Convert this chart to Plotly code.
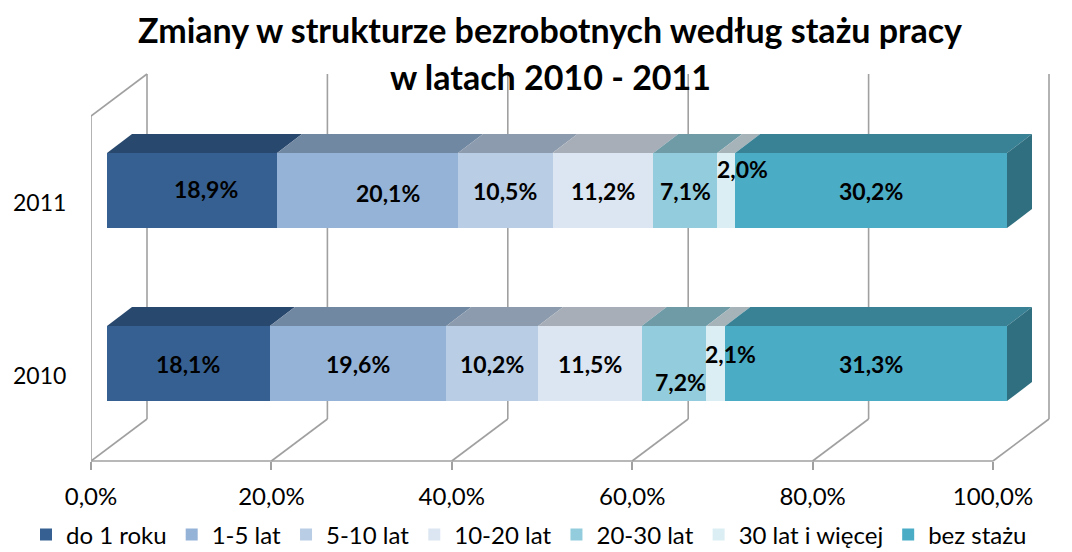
import plotly.graph_objects as go

# ---------------- data ----------------
years = ["2010", "2011"]
categories = ["do 1 roku", "1-5 lat", "5-10 lat", "10-20 lat", "20-30 lat",
              "30 lat i więcej", "bez stażu"]
values_2010 = [18.1, 19.6, 10.2, 11.5, 7.2, 2.1, 31.3]
values_2011 = [18.9, 20.1, 10.5, 11.2, 7.1, 2.0, 30.2]
x_ticks = [0, 20, 40, 60, 80, 100]
x_tick_labels = ["0,0%", "20,0%", "40,0%", "60,0%", "80,0%", "100,0%"]
title_lines = ["Zmiany w strukturze bezrobotnych według stażu pracy",
               "w latach 2010 - 2011"]

# ---------------- style ----------------
front_colors = ["#376092", "#95B3D7", "#B9CDE5", "#DCE6F2", "#93CDDD", "#DBEEF4", "#4BACC6"]


def shade(hex_color, f):
    h = hex_color.lstrip("#")
    r, g, b = (int(h[i:i + 2], 16) for i in (0, 2, 4))
    return "#%02X%02X%02X" % (int(r * f), int(g * f), int(b * f))


top_colors = [shade(c, 0.76) for c in front_colors]
side_colors = [shade(c, 0.65) for c in front_colors]

FONT = "Lato"
GRID = "#A0A0A0"
W, H = 1072, 552
PL, PR, PT, PB = 91, 1050, 74, 461          # plot area in px
BAR0_PX, BAR_SCALE = 107, 9.0               # bar plane: px = 107 + 9.0*v
FRONT_SCALE = 9.02                          # front plane: px = 91 + 9.02*v
CAT_PX, CAT_CENTER = 173, 363.5             # y: px = 363.5 - 173*idx
BAR_W_PX = 75
DEPTH = (25, 19)                            # bar depth offset (px right, px up)
WALL = (56, 42)                             # back wall offset (px right, px up)
FRONT_CAT_SHIFT = -11                       # front plane vs bar plane (px, plotly up)

# label nudges (px) keyed by (year index, category index)
nudges = {(1, 0): (14, 2), (1, 1): (20, -2), (1, 5): (16, 22),
          (0, 4): (6, -18), (0, 5): (15, 10), (0, 6): (5, 0)}

x_range = [(PL - BAR0_PX) / BAR_SCALE, (PR - BAR0_PX) / BAR_SCALE]
x2_range = [0, (PR - PL) / FRONT_SCALE]
y_range = [(CAT_CENTER - PB) / CAT_PX, (CAT_CENTER - PT) / CAT_PX]
bar_w = BAR_W_PX / CAT_PX
dx = DEPTH[0] / BAR_SCALE
dy = DEPTH[1] / CAT_PX
paper_h = PB - PT
paper_w = PR - PL
wall_dy = WALL[1] / paper_h

series = {0: values_2010, 1: values_2011}
y_pos = list(range(len(years)))

fig = go.Figure()
for ci, cat in enumerate(categories):
    fig.add_trace(go.Bar(
        y=y_pos, x=[series[yi][ci] for yi in y_pos], name=cat, orientation="h",
        width=bar_w, marker=dict(color=front_colors[ci], line=dict(width=0)),
        hoverinfo="x+name",
    ))

# invisible trace to carry the front-plane axis
fig.add_trace(go.Scatter(x=[x_ticks[0], x_ticks[-1]], y=[0, 0], xaxis="x2", yaxis="y",
                         mode="markers", marker=dict(opacity=0), showlegend=False,
                         hoverinfo="skip"))

shapes = []
line_style = dict(color=GRID, width=1.6)
# back wall gridlines and floor diagonals
for t in x_ticks:
    shapes.append(dict(type="line", xref="x2", yref="paper", xsizemode="pixel", xanchor=t,
                       x0=WALL[0], x1=WALL[0], y0=wall_dy, y1=1, line=line_style, layer="below"))
    shapes.append(dict(type="line", xref="x2", yref="paper", xsizemode="pixel", xanchor=t,
                       x0=0, x1=WALL[0], y0=0, y1=wall_dy, line=line_style, layer="below"))
# front floor line
shapes.append(dict(type="line", xref="x2", yref="paper", x0=x_ticks[0], x1=x_ticks[-1],
                   y0=0, y1=0, line=line_style, layer="below"))
# left wall
left_top = 1 - wall_dy
shapes.append(dict(type="line", xref="x2", yref="paper", x0=0, x1=0, y0=0, y1=left_top,
                   line=line_style, layer="below"))
shapes.append(dict(type="line", xref="x2", yref="paper", xsizemode="pixel", xanchor=0,
                   x0=0, x1=WALL[0], y0=left_top, y1=1, line=line_style, layer="below"))
# category ticks on left wall
n_cat = len(years)
for k in range(n_cat + 1):
    yy = left_top * k / n_cat
    shapes.append(dict(type="line", xref="x2", yref="paper", xsizemode="pixel", xanchor=0,
                       x0=-8, x1=0, y0=yy, y1=yy, line=line_style, layer="below"))

# 3D top faces and side face, derived from the data
for yi in y_pos:
    vals = series[yi]
    cum = 0.0
    ft = yi + bar_w / 2
    fb = yi - bar_w / 2
    for ci, v in enumerate(vals):
        x0, x1 = cum, cum + v
        path = (f"M{x0},{ft} L{x0 + dx},{ft + dy} L{x1 + dx},{ft + dy} L{x1},{ft} Z")
        shapes.append(dict(type="path", xref="x", yref="y", path=path,
                           fillcolor=top_colors[ci], line=dict(width=0), layer="below"))
        cum = x1
    last = len(vals) - 1
    path = (f"M{cum},{fb} L{cum},{ft} L{cum + dx},{ft + dy} L{cum + dx},{fb + dy} Z")
    shapes.append(dict(type="path", xref="x", yref="y", path=path,
                       fillcolor=side_colors[last], line=dict(width=0), layer="below"))

annotations = []
# value labels
for yi in y_pos:
    vals = series[yi]
    cum = 0.0
    for ci, v in enumerate(vals):
        nx, ny = nudges.get((yi, ci), (0, 0))
        annotations.append(dict(
            x=cum + v / 2, y=yi, xref="x", yref="y", showarrow=False,
            xanchor="center", yanchor="middle",
            text=f"{v:.1f}".replace(".", ",") + "%",
            font=dict(family=FONT, size=23, color="#000000", weight="bold"),
            xshift=nx, yshift=ny))
        cum += v
# category labels (front plane)
for yi in y_pos:
    annotations.append(dict(x=0, y=yi, xref="paper", yref="y", xanchor="right",
                            yanchor="middle", showarrow=False, text=years[yi], xshift=-23,
                            yshift=FRONT_CAT_SHIFT,
                            font=dict(family=FONT, size=23, color="#000000")))
# title
title_x = (550 - PL) / paper_w
for line, py in zip(title_lines, (29, 76)):
    annotations.append(dict(x=title_x, y=(PB - py) / paper_h, xref="paper", yref="paper",
                            xanchor="center", yanchor="middle",
                            showarrow=False, text=f"<b>{line}</b>",
                            font=dict(family=FONT, size=34, color="#000000")))

fig.update_layout(
    width=W, height=H,
    margin=dict(l=PL, r=W - PR, t=PT, b=H - PB, pad=0, autoexpand=False),
    paper_bgcolor="white", plot_bgcolor="white",
    barmode="stack", bargap=0,
    showlegend=True,
    legend=dict(orientation="h", xref="paper", yref="paper",
                x=(26 - PL) / paper_w, xanchor="left",
                y=(PB - 535) / paper_h, yanchor="middle", traceorder="normal",
                font=dict(family=FONT, size=24, color="#000000"),
                bgcolor="rgba(0,0,0,0)"),
    xaxis=dict(range=x_range, visible=False, fixedrange=True),
    xaxis2=dict(range=x2_range, overlaying="x", side="bottom", anchor="y",
                tickvals=x_ticks, ticktext=x_tick_labels, ticks="outside", ticklen=8,
                tickcolor=GRID, tickwidth=1.6, showgrid=False, zeroline=False,
                showline=False, ticklabelstandoff=6,
                tickfont=dict(family=FONT, size=24, color="#000000")),
    yaxis=dict(range=y_range, visible=False, fixedrange=True),
    shapes=shapes, annotations=annotations,
    font=dict(family=FONT),
)

fig.write_html("out.html", config={"displayModeBar": False},
               post_script="document.body.style.margin='0';document.body.style.overflow='hidden';")
